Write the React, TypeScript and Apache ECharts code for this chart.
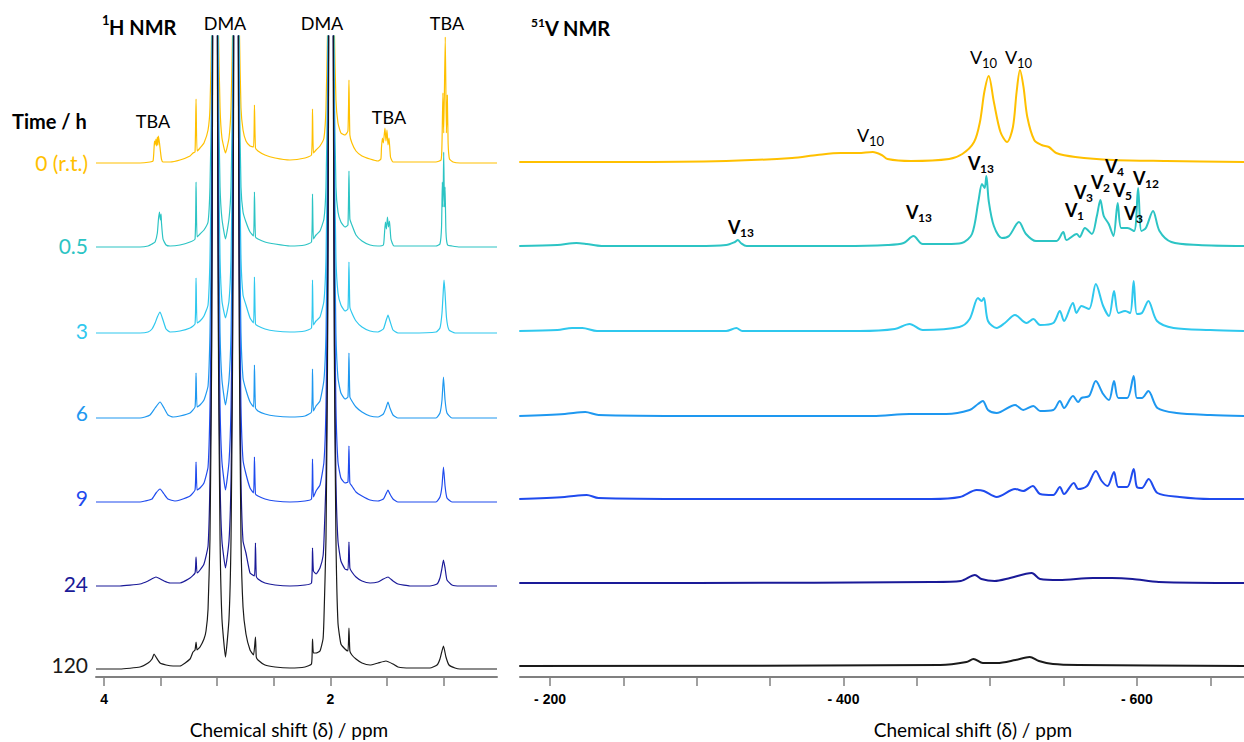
import React, { useEffect, useRef } from "react";
import * as echarts from "echarts";

// ---------- DATA ----------
const TIME_LABELS = ["0 (r.t.)", "0.5", "3", "6", "9", "24", "120"];

// 1H NMR spectra: [ppm, intensity]
const H_T0 = [[4.071,0],[3.682,0],[3.594,1],[3.567,2],[3.558,15],[3.554,22],[3.549,18],[3.541,24],[3.535,17],[3.529,26],[3.524,18],[3.519,27],[3.510,20],[3.502,12],[3.493,4],[3.479,1],[3.417,1],[3.329,3],[3.240,7],[3.214,10],[3.196,11],[3.187,64],[3.178,12],[3.152,15],[3.117,20],[3.081,33],[3.064,55],[3.050,128],[3.042,250],[3.030,600],[3.019,2000],[3.009,600],[2.997,250],[2.988,128],[2.975,55],[2.958,25],[2.927,10],[2.896,25],[2.878,55],[2.865,128],[2.856,250],[2.845,600],[2.834,2000],[2.824,600],[2.812,250],[2.803,128],[2.790,55],[2.772,33],[2.746,22],[2.710,17],[2.679,16],[2.671,58],[2.662,15],[2.640,12],[2.578,8],[2.489,5],[2.357,3],[2.224,5],[2.167,8],[2.158,54],[2.150,10],[2.127,13],[2.092,17],[2.057,25],[2.039,55],[2.026,128],[2.017,250],[2.005,600],[1.995,2000],[1.984,600],[1.973,250],[1.964,128],[1.951,63],[1.933,40],[1.907,30],[1.871,28],[1.845,32],[1.836,83],[1.828,28],[1.810,20],[1.774,12],[1.721,7],[1.650,4],[1.580,2],[1.554,4],[1.549,15],[1.541,25],[1.532,20],[1.518,35],[1.509,22],[1.500,33],[1.491,18],[1.482,25],[1.469,6],[1.447,1],[1.297,1],[1.067,1],[1.022,3],[1.014,20],[1.006,70],[0.999,30],[0.985,126],[0.975,30],[0.967,68],[0.960,20],[0.948,4],[0.917,1],[0.855,0],[0.528,0]];
const H_T05 = [[4.071,0],[3.682,0],[3.611,1],[3.576,3],[3.549,5],[3.529,14],[3.519,28],[3.510,35],[3.502,27],[3.496,33],[3.493,25],[3.479,8],[3.452,2],[3.417,1],[3.329,2],[3.240,5],[3.196,8],[3.187,65],[3.178,10],[3.152,13],[3.117,17],[3.081,25],[3.064,60],[3.050,150],[3.042,280],[3.030,700],[3.019,2000],[3.009,700],[2.997,280],[2.988,150],[2.975,60],[2.958,28],[2.927,8],[2.896,28],[2.878,60],[2.865,150],[2.856,280],[2.845,700],[2.834,2000],[2.824,700],[2.812,280],[2.803,150],[2.790,60],[2.772,35],[2.746,25],[2.710,15],[2.679,11],[2.671,55],[2.662,10],[2.640,8],[2.578,5],[2.489,3],[2.357,1],[2.224,2],[2.167,5],[2.158,53],[2.150,8],[2.127,12],[2.092,16],[2.057,28],[2.039,60],[2.026,150],[2.017,280],[2.005,700],[1.995,2000],[1.984,700],[1.973,280],[1.964,150],[1.951,60],[1.933,35],[1.907,25],[1.871,20],[1.845,22],[1.836,76],[1.828,28],[1.810,22],[1.774,12],[1.721,6],[1.650,2],[1.580,1],[1.532,2],[1.523,12],[1.514,25],[1.505,18],[1.496,30],[1.487,20],[1.478,26],[1.465,8],[1.438,1],[1.297,1],[1.067,1],[1.032,3],[1.018,20],[1.011,65],[1.005,40],[0.999,95],[0.992,40],[0.987,60],[0.979,15],[0.965,2],[0.926,1],[0.855,0],[0.528,0]];
const H_T3 = [[4.071,0],[3.682,0],[3.611,1],[3.576,4],[3.549,10],[3.529,16],[3.505,21],[3.479,13],[3.452,4],[3.417,1],[3.329,2],[3.240,5],[3.196,9],[3.187,55],[3.178,10],[3.152,12],[3.117,17],[3.081,28],[3.064,75],[3.050,180],[3.042,330],[3.030,800],[3.019,2000],[3.009,800],[2.997,330],[2.988,180],[2.975,75],[2.958,32],[2.927,15],[2.896,32],[2.878,75],[2.865,180],[2.856,330],[2.845,800],[2.834,2000],[2.824,800],[2.812,330],[2.803,180],[2.790,75],[2.772,38],[2.746,28],[2.710,15],[2.679,10],[2.671,56],[2.662,9],[2.640,7],[2.578,4],[2.489,2],[2.357,1],[2.224,2],[2.167,5],[2.158,53],[2.150,8],[2.127,12],[2.092,16],[2.057,32],[2.039,75],[2.026,180],[2.017,330],[2.005,800],[1.995,2000],[1.984,800],[1.973,330],[1.964,180],[1.951,75],[1.933,40],[1.907,28],[1.871,22],[1.845,24],[1.836,71],[1.828,26],[1.810,20],[1.774,12],[1.721,6],[1.650,2],[1.580,1],[1.532,4],[1.509,12],[1.491,18],[1.474,12],[1.447,3],[1.403,0],[1.297,0],[1.067,1],[1.032,5],[1.014,20],[1.001,45],[0.996,53],[0.987,40],[0.974,15],[0.952,3],[0.899,0],[0.528,0]];
const H_T6 = [[4.071,0],[3.682,0],[3.638,1],[3.594,3],[3.549,10],[3.505,16],[3.470,10],[3.435,3],[3.390,1],[3.329,2],[3.240,5],[3.196,11],[3.187,45],[3.178,11],[3.152,13],[3.117,18],[3.081,32],[3.064,85],[3.050,200],[3.042,400],[3.030,900],[3.019,2000],[3.009,900],[2.997,400],[2.988,200],[2.975,85],[2.958,38],[2.927,13],[2.896,38],[2.878,85],[2.865,200],[2.856,400],[2.845,900],[2.834,2000],[2.824,900],[2.812,400],[2.803,200],[2.790,85],[2.772,40],[2.746,28],[2.710,16],[2.679,11],[2.671,53],[2.662,10],[2.640,7],[2.578,4],[2.489,2],[2.357,1],[2.224,2],[2.167,6],[2.158,49],[2.150,7],[2.127,12],[2.092,17],[2.057,38],[2.039,85],[2.026,200],[2.017,400],[2.005,900],[1.995,2000],[1.984,900],[1.973,400],[1.964,200],[1.951,85],[1.933,40],[1.907,25],[1.871,19],[1.845,21],[1.836,65],[1.828,21],[1.810,17],[1.774,11],[1.721,6],[1.650,2],[1.580,1],[1.532,4],[1.509,10],[1.491,16],[1.474,10],[1.447,3],[1.403,0],[1.297,0],[1.067,0],[1.032,5],[1.014,18],[1.001,41],[0.987,18],[0.970,5],[0.926,0],[0.528,0]];
const H_T9 = [[4.071,0],[3.682,0],[3.638,1],[3.576,3],[3.541,9],[3.505,13],[3.470,8],[3.435,3],[3.373,1],[3.329,2],[3.240,6],[3.196,12],[3.187,40],[3.178,12],[3.152,14],[3.117,19],[3.081,35],[3.064,95],[3.050,220],[3.042,450],[3.030,1000],[3.019,2000],[3.009,1000],[2.997,450],[2.988,220],[2.975,95],[2.958,40],[2.927,12],[2.896,40],[2.878,95],[2.865,220],[2.856,450],[2.845,1000],[2.834,2000],[2.824,1000],[2.812,450],[2.803,220],[2.790,95],[2.772,42],[2.746,28],[2.710,14],[2.679,9],[2.671,45],[2.662,8],[2.640,6],[2.578,3],[2.489,1],[2.357,0],[2.224,1],[2.167,3],[2.158,43],[2.150,5],[2.127,11],[2.092,17],[2.057,40],[2.039,95],[2.026,220],[2.017,450],[2.005,1000],[1.995,2000],[1.984,1000],[1.973,450],[1.964,220],[1.951,95],[1.933,40],[1.907,24],[1.871,19],[1.845,20],[1.836,56],[1.828,19],[1.810,16],[1.774,10],[1.721,6],[1.650,2],[1.580,1],[1.532,3],[1.509,8],[1.491,12],[1.474,8],[1.447,3],[1.403,0],[1.297,0],[1.067,0],[1.032,5],[1.014,16],[1.001,35],[0.987,16],[0.970,4],[0.926,0],[0.528,0]];
const H_T24 = [[4.071,0],[3.859,0],[3.682,2],[3.611,5],[3.541,9],[3.470,5],[3.417,3],[3.329,3],[3.240,8],[3.196,13],[3.187,29],[3.178,13],[3.152,16],[3.117,22],[3.081,40],[3.064,105],[3.050,240],[3.042,500],[3.030,1100],[3.019,2000],[3.009,1100],[2.997,500],[2.988,240],[2.975,105],[2.958,45],[2.927,18],[2.896,45],[2.878,105],[2.865,240],[2.856,500],[2.845,1100],[2.834,2000],[2.824,1100],[2.812,500],[2.803,240],[2.790,105],[2.772,45],[2.746,33],[2.710,13],[2.671,10],[2.662,43],[2.655,10],[2.640,7],[2.578,3],[2.489,1],[2.357,0],[2.224,1],[2.167,3],[2.158,38],[2.150,15],[2.127,12],[2.092,18],[2.065,30],[2.057,45],[2.039,105],[2.026,240],[2.017,500],[2.005,1100],[1.995,2000],[1.984,1100],[1.973,500],[1.964,240],[1.951,105],[1.933,45],[1.907,25],[1.871,17],[1.845,16],[1.836,44],[1.828,18],[1.810,14],[1.774,9],[1.721,5],[1.650,3],[1.580,4],[1.532,7],[1.491,9],[1.447,5],[1.403,2],[1.297,0],[1.120,0],[1.058,2],[1.032,8],[1.014,18],[1.001,26],[0.987,18],[0.970,6],[0.926,1],[0.855,0],[0.528,0]];
const H_T120 = [[4.071,0],[3.859,0],[3.682,2],[3.611,6],[3.576,10],[3.558,15],[3.541,12],[3.505,6],[3.452,4],[3.390,3],[3.329,3],[3.240,10],[3.214,17],[3.196,19],[3.187,27],[3.178,19],[3.152,22],[3.117,30],[3.099,38],[3.081,60],[3.064,130],[3.050,300],[3.042,550],[3.030,1200],[3.019,2500],[3.009,1200],[2.997,550],[2.988,300],[2.975,130],[2.958,50],[2.927,12],[2.896,50],[2.878,130],[2.865,300],[2.856,550],[2.845,1200],[2.834,2500],[2.824,1200],[2.812,550],[2.803,300],[2.790,130],[2.772,62],[2.746,35],[2.710,19],[2.679,14],[2.662,32],[2.655,12],[2.640,9],[2.578,4],[2.489,2],[2.357,1],[2.224,2],[2.167,5],[2.158,30],[2.150,16],[2.127,16],[2.092,18],[2.065,30],[2.057,50],[2.039,130],[2.026,300],[2.017,550],[2.005,1200],[1.995,2500],[1.984,1200],[1.973,550],[1.964,300],[1.951,130],[1.933,46],[1.907,25],[1.871,20],[1.845,18],[1.836,41],[1.828,18],[1.810,14],[1.774,10],[1.721,6],[1.650,4],[1.580,6],[1.509,8],[1.447,5],[1.403,2],[1.297,1],[1.120,1],[1.058,4],[1.032,10],[1.001,23],[0.979,12],[0.952,4],[0.899,1],[0.855,0],[0.528,0]];

// 51V NMR spectra: [ppm, intensity]
const V_T0 = [[-179,0],[-250,0],[-320,1],[-365,4],[-382,7],[-398,9],[-410,9],[-420,10],[-426,7],[-430,3],[-446,1],[-472,3],[-481,8],[-489,20],[-493,40],[-496,70],[-499,86],[-502.5,60],[-507,30],[-511.5,20],[-515.5,35],[-518,70],[-520.3,92],[-522.7,75],[-525.3,45],[-530,22],[-535,17],[-540,15],[-545,9],[-558,5],[-584,2],[-620,1],[-673,0]];
const V_T05 = [[-179,0],[-205,1],[-218,3],[-225,2],[-235,0],[-300,0],[-320,1],[-326,4],[-328,6],[-330,3],[-334,0],[-400,0],[-430,1],[-441,3],[-447.7,10],[-454,2],[-470,2],[-480.6,3],[-487.6,12],[-492,45],[-494.4,62],[-496.2,58],[-497.4,70],[-499,45],[-502.5,20],[-508,8],[-512.8,10],[-519.6,24],[-524.4,12],[-531.2,5],[-545.2,5],[-549.8,14],[-552,6],[-559,12],[-561,9],[-564.6,18],[-569.3,12],[-572.7,30],[-575.1,46],[-577.4,30],[-580.8,22],[-584,10],[-586.9,43],[-589.3,18],[-593.5,18],[-598.1,15],[-600.8,58],[-603.1,15],[-606.1,18],[-611,35],[-615.4,15],[-623.5,4],[-641.9,1],[-673,0]];
const V_T3 = [[-179,0],[-205,1],[-215,3],[-222,3],[-232,0],[-320,0],[-327,3],[-331,0],[-411,0],[-435,2],[-445,7],[-454,1],[-479,4],[-486,12],[-491.7,33],[-494.1,30],[-495.7,33],[-498.5,10],[-504.4,3],[-510,8],[-516.9,16],[-524.8,8],[-529.4,12],[-534,6],[-543,8],[-547.5,20],[-550.3,10],[-556.4,28],[-558.8,18],[-562.2,25],[-567.4,22],[-572,47],[-577,25],[-581,15],[-584.4,40],[-587.4,18],[-592,20],[-595.4,18],[-597.8,50],[-600,17],[-603.4,18],[-607.8,30],[-613.7,10],[-625,3],[-650,1],[-673,0]];
const V_T6 = [[-179,0],[-210,2],[-224,4],[-233,1],[-300,0],[-420,0],[-445,2],[-470,2],[-486,6],[-491.7,12],[-495,15],[-498.5,6],[-504.4,3],[-517,11],[-522.5,6],[-529.4,10],[-534,5],[-543,6],[-547.5,15],[-550.3,8],[-556.4,20],[-560,14],[-562.2,18],[-567.4,20],[-572,35],[-577,22],[-581,16],[-584.4,35],[-587.4,18],[-593.4,18],[-597.8,40],[-600,18],[-603.4,18],[-607.8,25],[-614,8],[-627,3],[-650,1],[-673,0]];
const V_T9 = [[-179,0],[-210,2],[-225,4],[-233,1],[-300,0],[-460,0],[-479.4,2],[-490.8,9],[-495.7,8],[-504.4,2],[-517,10],[-522.5,8],[-529,13],[-534,5],[-543,4],[-547.5,12],[-550.3,5],[-557,16],[-560,10],[-566,13],[-572,28],[-576,18],[-580,13],[-584.4,27],[-587.4,12],[-593.4,12],[-597.8,30],[-600,12],[-603.4,11],[-608,20],[-614,6],[-629,2],[-650,0],[-673,0]];
const V_T24 = [[-179,0],[-300,0],[-460,1],[-480,2],[-489.6,8],[-494,4],[-503,2],[-513.5,5],[-528.3,10],[-534,4],[-547,3],[-570,5],[-583,5],[-597,4],[-615,1],[-673,0]];
const V_T120 = [[-179,0],[-466,1],[-483.8,4],[-488.6,7],[-495,3],[-504.6,3],[-517.3,6],[-526.9,9],[-533.2,5],[-542.8,2],[-560,1],[-673,0]];

const H_SPECTRA = [H_T0, H_T05, H_T3, H_T6, H_T9, H_T24, H_T120];
const V_SPECTRA = [V_T0, V_T05, V_T3, V_T6, V_T9, V_T24, V_T120];

const H_TICKS = [1, 1.5, 2, 2.5, 3, 3.5, 4];
const H_TICK_LABELS = [2, 4];
const V_TICKS = [-650, -600, -550, -500, -450, -400, -350, -300, -250, -200];
const V_TICK_LABELS = [-600, -400, -200];

// ---------- STYLE / LAYOUT ----------
const COLORS = ["#FFC000", "#2CC4C4", "#2FC8EE", "#1E98F0", "#1F4BEE", "#1A1A98", "#1A1A1A"];
const H_OFFSETS = [514, 430, 344, 259, 175, 91, 8];
const V_OFFSETS = [515, 431, 346, 261, 178, 94, 11];
const TIME_Y = [162, 245, 330, 412, 497, 583, 664];
const FONT = "Lato";

const SUB_V_NORMAL = [
  [970, 57], [1005, 57], [857, 135],
];
const SUB_V_BOLD = [
  [728, 227, "13"], [906, 212, "13"], [968, 163, "13"], [1065, 210, "1"], [1074, 192, "3"],
  [1091, 182, "2"], [1105, 166, "4"], [1113, 190, "5"], [1133, 178, "12"], [1124, 213, "3"],
];

function txt(text: string, x: number, y: number, font: string, fill = "#000", align = "left") {
  return {
    type: "text",
    x,
    y,
    z: 100,
    style: { text, font, fill, align, verticalAlign: "middle" },
  };
}

export default function App() {
  const ref = useRef<HTMLDivElement>(null);
  useEffect(() => {
    if (!ref.current) return;
    const chart = echarts.init(ref.current, null, { renderer: "svg" });

    const series: any[] = [];
    H_SPECTRA.forEach((s, i) => {
      series.push({
        type: "line",
        xAxisIndex: 0,
        yAxisIndex: 0,
        showSymbol: false,
        symbol: "none",
        clip: true,
        smooth: 0.15,
        data: s.map(([p, h]) => [p, h + H_OFFSETS[i]]),
        lineStyle: { color: COLORS[i], width: 1.2 },
        z: 2 + i,
      });
    });
    V_SPECTRA.forEach((s, i) => {
      series.push({
        type: "line",
        xAxisIndex: 1,
        yAxisIndex: 1,
        showSymbol: false,
        symbol: "none",
        clip: true,
        smooth: 0.3,
        data: s.map(([p, h]) => [p, h + V_OFFSETS[i]]),
        lineStyle: { color: COLORS[i], width: 2, join: "round" },
        z: 2 + i,
      });
    });

    const graphics: any[] = [];
    graphics.push(txt("1", 102, 20, `bold 13px ${FONT}`));
    graphics.push(txt("H NMR", 109, 27, `bold 20px ${FONT}`));
    graphics.push(txt("51", 531, 22, `bold 12px ${FONT}`));
    graphics.push(txt("V NMR", 545, 28, `bold 20px ${FONT}`));
    graphics.push(txt("DMA", 225, 23, `18px ${FONT}`, "#000", "center"));
    graphics.push(txt("DMA", 322, 23, `18px ${FONT}`, "#000", "center"));
    graphics.push(txt("TBA", 447, 23, `18px ${FONT}`, "#000", "center"));
    graphics.push(txt("TBA", 153, 121, `18px ${FONT}`, "#000", "center"));
    graphics.push(txt("TBA", 389, 117, `18px ${FONT}`, "#000", "center"));
    graphics.push(txt("Time / h", 12, 121, `bold 20px ${FONT}`));
    TIME_LABELS.forEach((t, i) => {
      graphics.push(txt(t, 88, TIME_Y[i], `21px ${FONT}`, COLORS[i], "right"));
    });
    SUB_V_NORMAL.forEach(([x, y]) => {
      graphics.push(txt("V", x, y, `18px ${FONT}`));
      graphics.push(txt("10", x + 12, y + 6, `13px ${FONT}`));
    });
    SUB_V_BOLD.forEach(([x, y, s]) => {
      graphics.push(txt("V", x as number, y as number, `bold 18px ${FONT}`));
      graphics.push(txt(s as string, (x as number) + 12, (y as number) + 5, `bold 12px ${FONT}`));
    });
    graphics.push(txt("Chemical shift (δ) / ppm", 289, 729, `19px ${FONT}`, "#000", "center"));
    graphics.push(txt("Chemical shift (δ) / ppm", 973, 729, `19px ${FONT}`, "#000", "center"));

    const axisCommon = {
      type: "value",
      inverse: true,
      splitLine: { show: false },
      axisLine: { show: true, onZero: false, lineStyle: { color: "#808080", width: 2 } },
    };

    chart.setOption({
      animation: false,
      textStyle: { fontFamily: FONT },
      grid: [
        { left: 96, top: 36, width: 401, height: 641 },
        { left: 520, top: 36, width: 724, height: 641 },
      ],
      xAxis: [
        {
          ...axisCommon,
          gridIndex: 0,
          min: 0.528,
          max: 4.071,
          axisTick: { show: true, length: 9, customValues: H_TICKS, lineStyle: { color: "#808080", width: 1.5 } },
          axisLabel: {
            customValues: H_TICK_LABELS,
            fontWeight: "bold",
            fontSize: 14,
            fontFamily: "Liberation Sans Narrow, Liberation Sans",
            color: "#000",
            margin: 15,
          },
        },
        {
          ...axisCommon,
          gridIndex: 1,
          min: -673,
          max: -179.5,
          axisTick: { show: true, length: 9, customValues: V_TICKS, lineStyle: { color: "#808080", width: 1.5 } },
          axisLabel: {
            customValues: V_TICK_LABELS,
            fontWeight: "bold",
            fontSize: 14,
            fontFamily: "Liberation Sans Narrow, Liberation Sans",
            color: "#000",
            margin: 15,
            formatter: (v: number) => "- " + Math.abs(v),
          },
        },
      ],
      yAxis: [
        { type: "value", gridIndex: 0, min: 0, max: 641, show: false },
        { type: "value", gridIndex: 1, min: 0, max: 641, show: false },
      ],
      series,
      graphic: graphics,
    });
    return () => chart.dispose();
  }, []);
  return <div ref={ref} style={{ position: "fixed", left: 0, top: 0, width: 1244, height: 742, background: "#fff" }} />;
}
